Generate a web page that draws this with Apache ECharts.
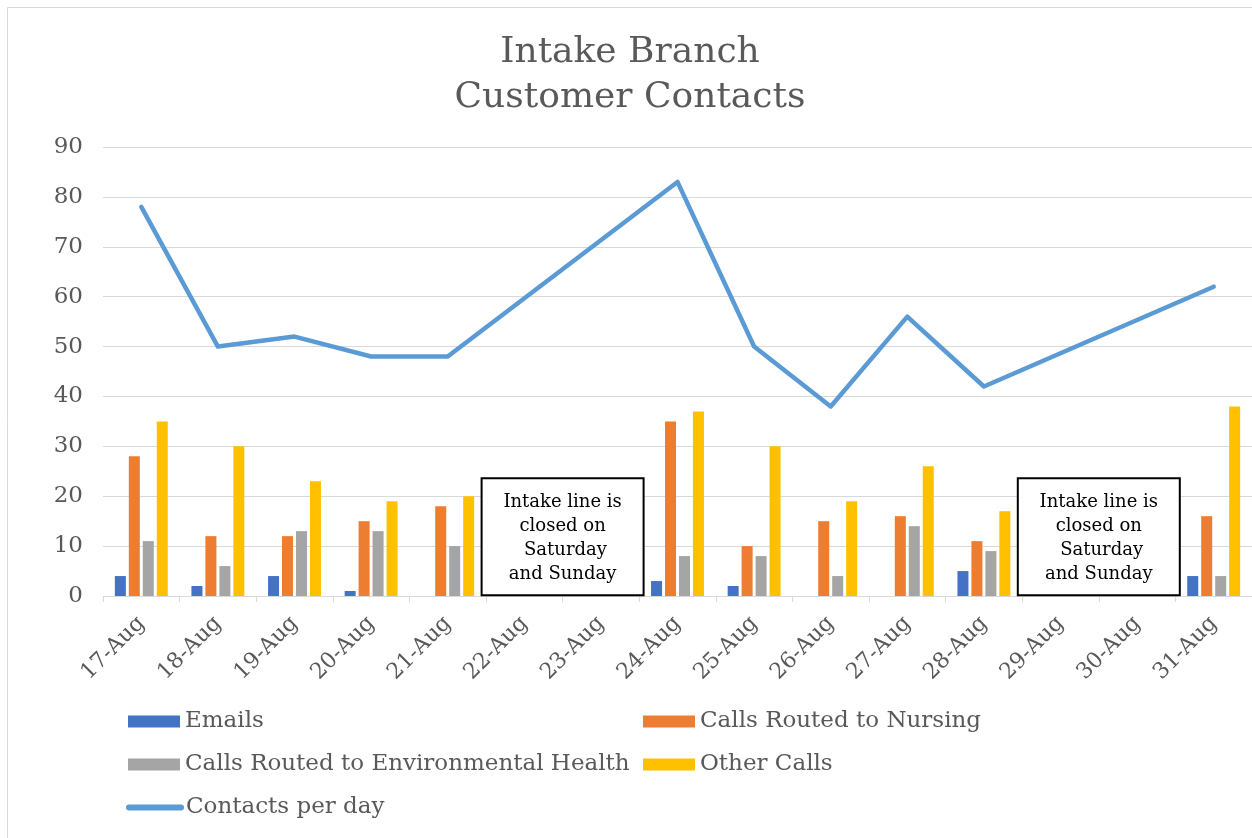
<!DOCTYPE html>
<html>
<head>
<meta charset="utf-8">
<script src="https://cdn.jsdelivr.net/npm/echarts@6/dist/echarts.min.js"></script>
<style>
html,body{margin:0;padding:0;background:#fff;}
#chart{width:1252px;height:838px;}
</style>
</head>
<body>
<div id="chart"></div>
<script>
var categories = ['17-Aug','18-Aug','19-Aug','20-Aug','21-Aug','22-Aug','23-Aug','24-Aug','25-Aug','26-Aug','27-Aug','28-Aug','29-Aug','30-Aug','31-Aug'];
var emails = [4, 2, 4, 1, 0, null, null, 3, 2, 0, 0, 5, null, null, 4];
var nursing = [28, 12, 12, 15, 18, null, null, 35, 10, 15, 16, 11, null, null, 16];
var envHealth = [11, 6, 13, 13, 10, null, null, 8, 8, 4, 14, 9, null, null, 4];
var otherCalls = [35, 30, 23, 19, 20, null, null, 37, 30, 19, 26, 17, null, null, 38];
var contacts = [78, 50, 52, 48, 48, null, null, 83, 50, 38, 56, 42, null, null, 62];
var yTicks = [0, 10, 20, 30, 40, 50, 60, 70, 80, 90];
var noteText = 'Intake line is\nclosed on\n Saturday\nand Sunday';
var notePairs = [['22-Aug','23-Aug'], ['29-Aug','30-Aug']];

var FONT = 'DejaVu Serif';
var GREY = '#595959';
var chart = echarts.init(document.getElementById('chart'));

function legendAt(name, left, top, lineItem) {
  var l = {
    data: [name], left: left, top: top, orient: 'horizontal',
    itemWidth: 52, itemHeight: 12, padding: 0,
    selectedMode: false,
    textStyle: {fontFamily: FONT, fontSize: 23, color: GREY}
  };
  if (lineItem) {
    l.itemStyle = {opacity: 0};
    l.lineStyle = {width: 6, cap: 'round'};
  } else {
    l.icon = 'rect';
  }
  return l;
}

var option = {
  animation: false,
  backgroundColor: '#fff',
  title: {
    text: 'Intake Branch\nCustomer Contacts',
    left: 625, top: 25, textAlign: 'center',
    textStyle: {fontFamily: FONT, fontSize: 36, fontWeight: 'normal', color: GREY, lineHeight: 45}
  },
  legend: [
    legendAt('Emails', 128, 710),
    legendAt('Calls Routed to Nursing', 643, 710),
    legendAt('Calls Routed to Environmental Health', 128, 753),
    legendAt('Other Calls', 643, 753),
    legendAt('Contacts per day', 126, 796, true)
  ],
  grid: {left: 103, top: 147, width: 1152, height: 449, containLabel: false},
  xAxis: {
    type: 'category', data: categories,
    axisLine: {lineStyle: {color: '#d9d9d9', width: 1}},
    axisTick: {show: true, length: 6, lineStyle: {color: '#d9d9d9'}},
    axisLabel: {rotate: 45, margin: 24, fontFamily: FONT, fontSize: 22, color: GREY, interval: 0}
  },
  yAxis: {
    type: 'value', min: yTicks[0], max: yTicks[yTicks.length - 1], interval: 10,
    axisLine: {show: false}, axisTick: {show: false},
    splitLine: {lineStyle: {color: '#d9d9d9', width: 1}},
    axisLabel: {margin: 20, fontFamily: FONT, fontSize: 23, color: GREY}
  },
  series: [
    {name: 'Emails', type: 'bar', data: emails, barWidth: 11, barGap: '27%', itemStyle: {color: '#4472C4'}},
    {name: 'Calls Routed to Nursing', type: 'bar', data: nursing, barWidth: 11, barGap: '27%', itemStyle: {color: '#ED7D31'}},
    {name: 'Calls Routed to Environmental Health', type: 'bar', data: envHealth, barWidth: 11, barGap: '27%', itemStyle: {color: '#A5A5A5'}},
    {name: 'Other Calls', type: 'bar', data: otherCalls, barWidth: 11, barGap: '27%', itemStyle: {color: '#FFC000'}},
    {name: 'Contacts per day', type: 'line', data: contacts, connectNulls: true, symbol: 'none', showSymbol: false,
     lineStyle: {color: '#5B9BD5', width: 4.5, cap: 'round', join: 'round'}, itemStyle: {color: '#5B9BD5'}, z: 5}
  ]
};
chart.setOption(option);

var graphics = [{
  type: 'rect', shape: {x: 7.5, y: 7.5, width: 1260, height: 850},
  style: {fill: null, stroke: '#d9d9d9', lineWidth: 1}, silent: true, z: 0
}];
notePairs.forEach(function (p) {
  var xa = chart.convertToPixel({xAxisIndex: 0}, p[0]);
  var xb = chart.convertToPixel({xAxisIndex: 0}, p[1]);
  var cx = (xa + xb) / 2;
  var yTop = chart.convertToPixel({yAxisIndex: 0}, 23.6);
  var yBot = chart.convertToPixel({yAxisIndex: 0}, 0.15);
  var w = 162;
  graphics.push({
    type: 'rect', shape: {x: cx - w / 2, y: yTop, width: w, height: yBot - yTop},
    style: {fill: '#fff', stroke: '#000', lineWidth: 2}, z: 20
  });
  graphics.push({
    type: 'text', x: cx, y: yTop + 12,
    style: {text: noteText, fontFamily: FONT, fontSize: 18, lineHeight: 24, fill: '#000', align: 'center', verticalAlign: 'top'},
    z: 21
  });
});
chart.setOption({graphic: graphics});
</script>
</body>
</html>
